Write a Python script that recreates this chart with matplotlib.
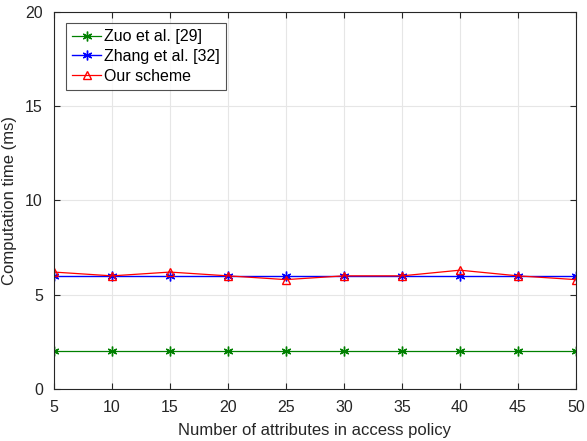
import matplotlib
matplotlib.use("Agg")
import matplotlib.pyplot as plt

x = [5, 10, 15, 20, 25, 30, 35, 40, 45, 50]
zuo = [2.0, 2.0, 2.0, 2.0, 2.0, 2.0, 2.0, 2.0, 2.0, 2.0]
zhang = [6.0, 6.0, 6.0, 6.0, 6.0, 6.0, 6.0, 6.0, 6.0, 6.0]
ours = [6.2, 6.0, 6.2, 6.0, 5.8, 6.0, 6.0, 6.3, 6.0, 5.8]

plt.rcParams['font.family'] = ['Arial', 'Liberation Sans', 'DejaVu Sans']
fig = plt.figure(figsize=(5.87, 4.41), dpi=100)
ax = fig.add_axes([0.092, 0.118, 0.889, 0.855])

ast = (6, 2, 0)
ax.plot(x, zuo, color='#008000', marker=ast, markersize=7, markeredgewidth=1.0, linewidth=0.9, label='Zuo et al. [29]')
ax.plot(x, zhang, color='#0000ff', marker=ast, markersize=7, markeredgewidth=1.0, linewidth=1.0, label='Zhang et al. [32]')
ax.plot(x, ours, color='#ff0000', marker='^', markersize=6, markerfacecolor='none', markeredgewidth=1.0,
        linewidth=0.9, label='Our scheme')

ax.set_xlim(5, 50)
ax.set_ylim(0, 20)
ax.set_xticks(x)
ax.set_yticks([0, 5, 10, 15, 20])
ax.grid(True, color='#e6e6e6', linewidth=0.8)
ax.set_axisbelow(True)
ax.tick_params(direction='in', labelsize=11.5, colors='#262626', top=True, right=True, length=4, pad=8)
for s in ax.spines.values():
    s.set_color('#262626')
    s.set_linewidth(0.8)
ax.set_xlabel('Number of attributes in access policy', fontsize=12, color='#262626', labelpad=6)
ax.set_ylabel('Computation time (ms)', fontsize=12, color='#262626', labelpad=6)
leg = ax.legend(loc='upper left', bbox_to_anchor=(0.023, 0.971), fontsize=11.5, frameon=True, fancybox=False,
                edgecolor='#262626', handlelength=1.8, borderpad=0.4, labelspacing=0.3, handletextpad=0.2,
                borderaxespad=0)
leg.get_frame().set_linewidth(0.8)

fig.savefig('out.png', dpi=100)
